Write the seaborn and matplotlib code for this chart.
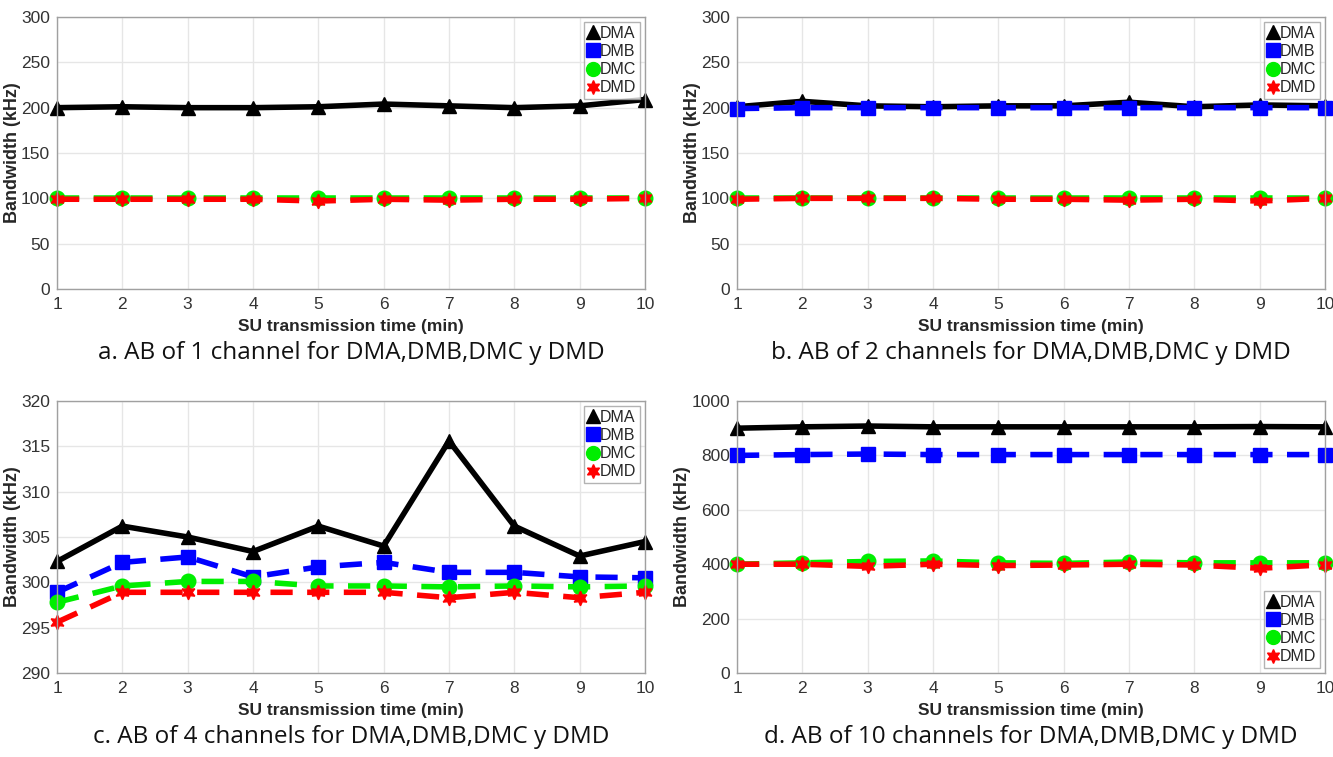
import matplotlib
matplotlib.use("Agg")
import matplotlib.pyplot as plt
from matplotlib.lines import Line2D
import seaborn as sns
import pandas as pd
import numpy as np

times = [1, 2, 3, 4, 5, 6, 7, 8, 9, 10]
methods = ["DMA", "DMB", "DMC", "DMD"]

# panel a: 1 channel (DMB is not visible in this panel)
a_dma = [200, 201, 200, 200, 201, 204, 202, 200, 202, 209]
a_dmb = [np.nan] * 10
a_dmc = [100, 100, 100, 100, 100, 100, 100, 100, 100, 100]
a_dmd = [99, 99, 99, 99, 97, 99, 98, 99, 99, 100]

# panel b: 2 channels
b_dma = [201, 207, 202, 201, 202, 202, 206, 201, 203, 202]
b_dmb = [199, 200, 200, 200, 200, 200, 200, 200, 200, 200]
b_dmc = [100, 100, 100, 100, 100, 100, 100, 100, 100, 100]
b_dmd = [99, 100, 100, 100, 99, 99, 98, 99, 97, 100]

# panel c: 4 channels
c_dma = [302.3, 306.2, 305.0, 303.4, 306.2, 304.0, 315.6, 306.2, 302.9, 304.5]
c_dmb = [298.9, 302.2, 302.8, 300.6, 301.7, 302.2, 301.1, 301.1, 300.6, 300.5]
c_dmc = [297.8, 299.6, 300.1, 300.1, 299.6, 299.6, 299.5, 299.6, 299.5, 299.6]
c_dmd = [295.6, 298.9, 298.9, 298.9, 298.9, 298.9, 298.3, 298.9, 298.3, 298.9]

# panel d: 10 channels
d_dma = [900, 905, 908, 905, 905, 905, 905, 905, 906, 905]
d_dmb = [800, 803, 805, 803, 803, 803, 803, 803, 803, 803]
d_dmc = [400, 405, 410, 412, 405, 403, 408, 405, 405, 405]
d_dmd = [400, 400, 392, 400, 395, 397, 400, 397, 385, 398]

captions = [
    "a. AB of 1 channel for DMA,DMB,DMC y DMD",
    "b. AB of 2 channels for DMA,DMB,DMC y DMD",
    "c. AB of 4 channels for DMA,DMB,DMC y DMD",
    "d. AB of 10 channels for DMA,DMB,DMC y DMD",
]

colors = {"DMA": "black", "DMB": "#0000ff", "DMC": "#00ee00", "DMD": "#ff0000"}
markers = {"DMA": "^", "DMB": "s", "DMC": "o", "DMD": (6, 1, 0)}
dash = (0, (4.0, 2.6))
styles = {"DMA": "-", "DMB": dash, "DMC": dash, "DMD": dash}

sns.set_style("white")
plt.rcParams["font.family"] = ["Liberation Sans Narrow", "Liberation Sans", "DejaVu Sans"]

fig = plt.figure(figsize=(13.33, 7.57), dpi=100)
W, H = 1333, 757


def make_axes(left, top, right, bottom):
    return fig.add_axes([left / W, 1 - bottom / H, (right - left) / W, (bottom - top) / H])


panels = [
    (make_axes(57, 17, 645, 289), [a_dma, a_dmb, a_dmc, a_dmd], (0, 300), list(range(0, 301, 50)), "upper right"),
    (make_axes(737, 17, 1325, 289), [b_dma, b_dmb, b_dmc, b_dmd], (0, 300), list(range(0, 301, 50)), "upper right"),
    (make_axes(57, 401, 645, 673), [c_dma, c_dmb, c_dmc, c_dmd], (290, 320), list(range(290, 321, 5)), "upper right"),
    (make_axes(737, 401, 1325, 673), [d_dma, d_dmb, d_dmc, d_dmd], (0, 1000), list(range(0, 1001, 200)), "lower right"),
]

handles = [Line2D([], [], linestyle="none", marker=markers[m], markersize=10,
                  color=colors[m], markeredgecolor=colors[m]) for m in methods]

for (ax, series, ylim, yticks, loc), cap in zip(panels, captions):
    df = pd.DataFrame({"time": times * 4,
                       "bw": [v for s in series for v in s],
                       "method": [m for m in methods for _ in times]})
    for m in methods:
        sub = df[(df["method"] == m) & df["bw"].notna()]
        if sub.empty:
            continue
        sns.lineplot(data=sub, x="time", y="bw", ax=ax, color=colors[m], marker=markers[m],
                     linestyle=styles[m], linewidth=4, markersize=10.5,
                     markeredgecolor=colors[m], markeredgewidth=1, clip_on=False)
    ax.set_xlim(1, 10)
    ax.set_ylim(*ylim)
    ax.set_xticks(times)
    ax.set_yticks(yticks)
    ax.grid(True, color="#e6e6e6", linewidth=1)
    for sp in ax.spines.values():
        sp.set_color("#a0a0a0")
        sp.set_linewidth(1)
    ax.tick_params(axis="y", labelsize=12.5, colors="#333333", length=3, direction="in", pad=5)
    ax.tick_params(axis="x", labelsize=12.5, colors="#333333", length=3, direction="in", pad=6)
    ax.set_xlabel("SU transmission time (min)", fontsize=12.5, fontweight="bold", color="#262626", labelpad=5)
    ax.set_ylabel("Bandwidth (kHz)", fontsize=13, fontweight="bold", color="#262626", labelpad=0)
    ax.legend(handles, methods, loc=loc, fontsize=11.5, handlelength=0.6, handletextpad=0.15,
              labelspacing=0.2, borderpad=0.25, borderaxespad=0.3, frameon=True,
              fancybox=False, edgecolor="#a0a0a0")
    pos = ax.get_position()
    fig.text(pos.x0 + pos.width / 2, pos.y0 - 64 / H, cap, ha="center", va="center",
             fontsize=17.5, family=["Open Sans", "DejaVu Sans"], color="#111111")

fig.savefig("out.png", dpi=100)
